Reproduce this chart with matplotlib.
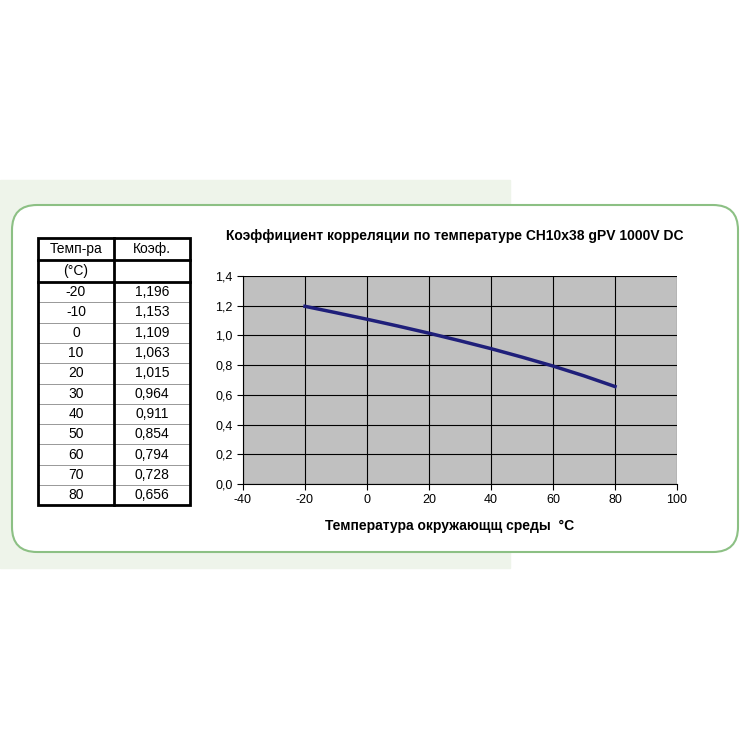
import matplotlib
matplotlib.use("Agg")
import matplotlib.pyplot as plt
from matplotlib.patches import Rectangle, FancyBboxPatch

temps = [-20, -10, 0, 10, 20, 30, 40, 50, 60, 70, 80]
coefs = [1.196, 1.153, 1.109, 1.063, 1.015, 0.964, 0.911, 0.854, 0.794, 0.728, 0.656]
coef_labels = ["1,196", "1,153", "1,109", "1,063", "1,015", "0,964", "0,911", "0,854", "0,794", "0,728", "0,656"]
xticks = [-40, -20, 0, 20, 40, 60, 80, 100]
yticks = [0.0, 0.2, 0.4, 0.6, 0.8, 1.0, 1.2, 1.4]
title = "Коэффициент корреляции по температуре CH10x38 gPV 1000V DC"
xlabel = "Температура окружающщ среды  °C"

plt.rcParams['font.family'] = ['Liberation Sans', 'DejaVu Sans']
fig = plt.figure(figsize=(7.5, 7.5), dpi=100)
bg = fig.add_axes([0, 0, 1, 1])
bg.set_xlim(0, 750); bg.set_ylim(750, 0); bg.axis('off')
bg.add_patch(Rectangle((0, 180), 510, 388, color='#eef4ea', zorder=0))
bg.add_patch(FancyBboxPatch((12, 205), 726, 347, boxstyle="round,pad=0,rounding_size=25",
                            fc='white', ec='#8cc084', lw=1.5, zorder=1))
# table
x0, x1, x2 = 38, 114, 190
rows = [238, 260, 282] + [282 + 20.3 * (i + 1) for i in range(11)]
for y in rows[1:-1]:
    lw = 2 if y <= 282 else 0.6
    c = 'black' if y <= 282 else '#888888'
    bg.plot([x0, x2], [y, y], color=c, lw=lw, zorder=3)
bg.add_patch(Rectangle((x0, 238), x2 - x0, rows[-1] - 238, fill=False, ec='black', lw=2, zorder=4))
bg.plot([x1, x1], [238, rows[-1]], color='black', lw=2, zorder=4)
bg.text((x0 + x1) / 2, 249, "Темп-ра", ha='center', va='center', fontsize=10, zorder=5)
bg.text((x1 + x2) / 2, 249, "Коэф.", ha='center', va='center', fontsize=10, zorder=5)
bg.text((x0 + x1) / 2, 271, "(°C)", ha='center', va='center', fontsize=10, zorder=5)
for i, (t, c) in enumerate(zip(temps, coef_labels)):
    yc = (rows[i + 2] + rows[i + 3]) / 2
    bg.text((x0 + x1) / 2, yc, str(t), ha='center', va='center', fontsize=10, zorder=5)
    bg.text((x1 + x2) / 2, yc, c, ha='center', va='center', fontsize=10, zorder=5)
bg.text(455, 236, title, ha='center', va='center', fontsize=10, fontweight='bold', zorder=5)
bg.text(450, 526, xlabel, ha='center', va='center', fontsize=10, fontweight='bold', zorder=5)

ax = fig.add_axes([243 / 750, 1 - 484 / 750, 434 / 750, 208 / 750])
ax.set_facecolor('#c0c0c0')
ax.plot(temps, coefs, color='#1f1f7a', lw=2.5)
ax.set_xlim(-40, 100); ax.set_ylim(0, 1.4)
ax.set_xticks(xticks); ax.set_yticks(yticks)
ax.set_xticklabels([str(v) for v in xticks], fontsize=9)
ax.set_yticklabels([f"{v:.1f}".replace('.', ',') for v in yticks], fontsize=9)
ax.grid(True, color='black', lw=0.8)
ax.set_axisbelow(True)
for s in ['top', 'right']:
    ax.spines[s].set_visible(False)
ax.tick_params(direction='out', length=4)
fig.savefig("out.png", dpi=100)
